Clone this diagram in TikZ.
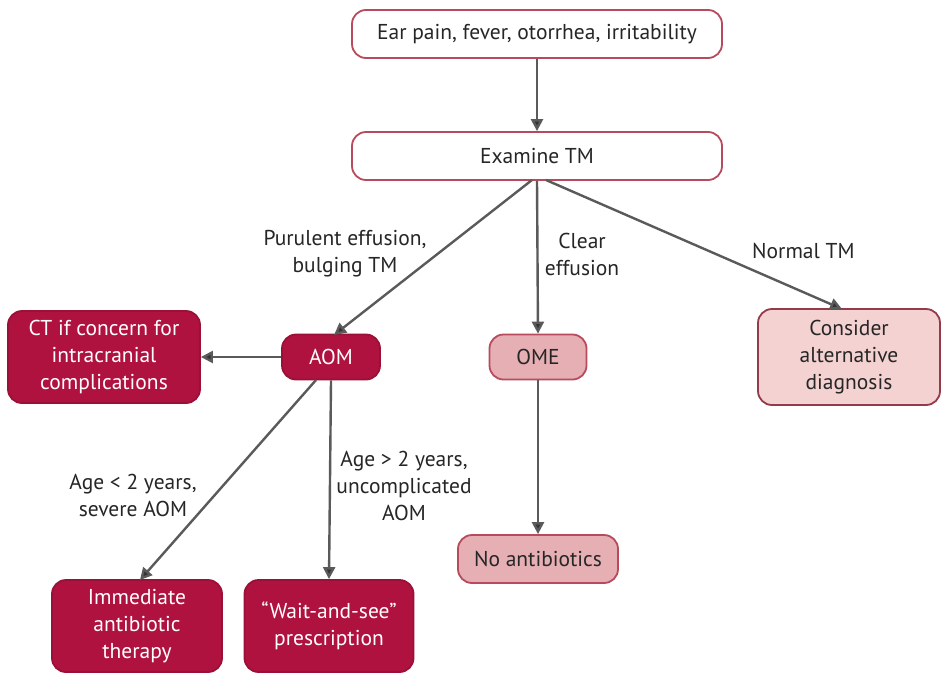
\documentclass[tikz,border=0pt]{standalone}
\usepackage{fontspec}
\setmainfont{PT Sans}
\usetikzlibrary{arrows.meta}
\definecolor{crimson}{HTML}{B01240}
\definecolor{crimsonedge}{HTML}{9A1036}
\definecolor{rosefill}{HTML}{E6AFB4}
\definecolor{paleros}{HTML}{F5D2D2}
\definecolor{roseedge}{HTML}{B84A5E}
\definecolor{linegray}{HTML}{5A5A5A}
\tikzset{
  every node/.style={font=\fontsize{21.5}{27}\selectfont},
  basebox/.style={rounded corners=14pt, line width=1.8pt, align=center, inner sep=0pt},
  whitebox/.style={basebox, draw=roseedge, fill=white, text=black!85},
  darkbox/.style={basebox, draw=crimsonedge, fill=crimson, text=white},
  pinkbox/.style={basebox, draw=roseedge, fill=rosefill, text=black!85},
  palebox/.style={basebox, draw=roseedge!80!black, fill=paleros, text=black!85},
  flow/.style={draw=linegray, line width=2.4pt, -{Triangle[length=12pt,width=12pt,fill=black!80]}},
  lbl/.style={text=black!85, inner sep=0pt, align=center},
}
\begin{document}
\begin{tikzpicture}[x=1pt,y=-1pt]
\useasboundingbox (0,0) rectangle (941,675);
\fill[white] (0,0) rectangle (941,675);

% boxes
\node[whitebox, minimum width=370pt, minimum height=48pt] (sym) at (537,34) {Ear pain, fever, otorrhea, irritability};
\node[whitebox, minimum width=370pt, minimum height=48pt] (exam) at (537,156) {Examine TM};
\node[darkbox, minimum width=192pt, minimum height=92pt] (ct) at (104,357) {CT if concern for\\intracranial\\complications};
\node[darkbox, minimum width=98pt, minimum height=45pt] (aom) at (331,357) {AOM};
\node[pinkbox, minimum width=97pt, minimum height=45pt] (ome) at (538,357) {OME};
\node[palebox, minimum width=182pt, minimum height=96pt] (alt) at (849,357) {Consider\\alternative\\diagnosis};
\node[pinkbox, minimum width=160pt, minimum height=48pt] (noab) at (538,559) {No antibiotics};
\node[darkbox, minimum width=170pt, minimum height=92pt] (imm) at (137,626) {Immediate\\antibiotic\\therapy};
\node[darkbox, minimum width=169pt, minimum height=92pt] (wait) at (329,626) {``Wait-and-see''\\prescription};

% connectors
\coordinate (examL) at (532,180);
\coordinate (examR) at (546,180);
\coordinate (aomT) at (334,335);
\coordinate (altT) at (842,309);
\coordinate (aomBL) at (316,380);
\coordinate (immT) at (140,580);
\draw[flow] (sym) -- (exam);
\draw[flow] (examL) -- (aomT);
\draw[flow] (exam.south) -- (ome.north);
\draw[flow] (examR) -- (altT);
\draw[flow] (aom.west) -- (ct.east);
\draw[flow] (aomBL) -- (immT);
\draw[flow] (aom.south) -- (wait.north);
\draw[flow] (ome) -- (noab);

% branch labels
\node[lbl] (l1) at (345,254) {Purulent effusion,\\bulging TM};
\node[lbl] (l2) at (582,254) {Clear\\effusion};
\node[lbl, anchor=west] (l3) at (752,251) {Normal TM};
\node[lbl] (l4) at (133,495) {Age < 2 years,\\severe AOM};
\node[lbl] (l5) at (404,486) {Age > 2 years,\\uncomplicated\\AOM};
\end{tikzpicture}
\end{document}
